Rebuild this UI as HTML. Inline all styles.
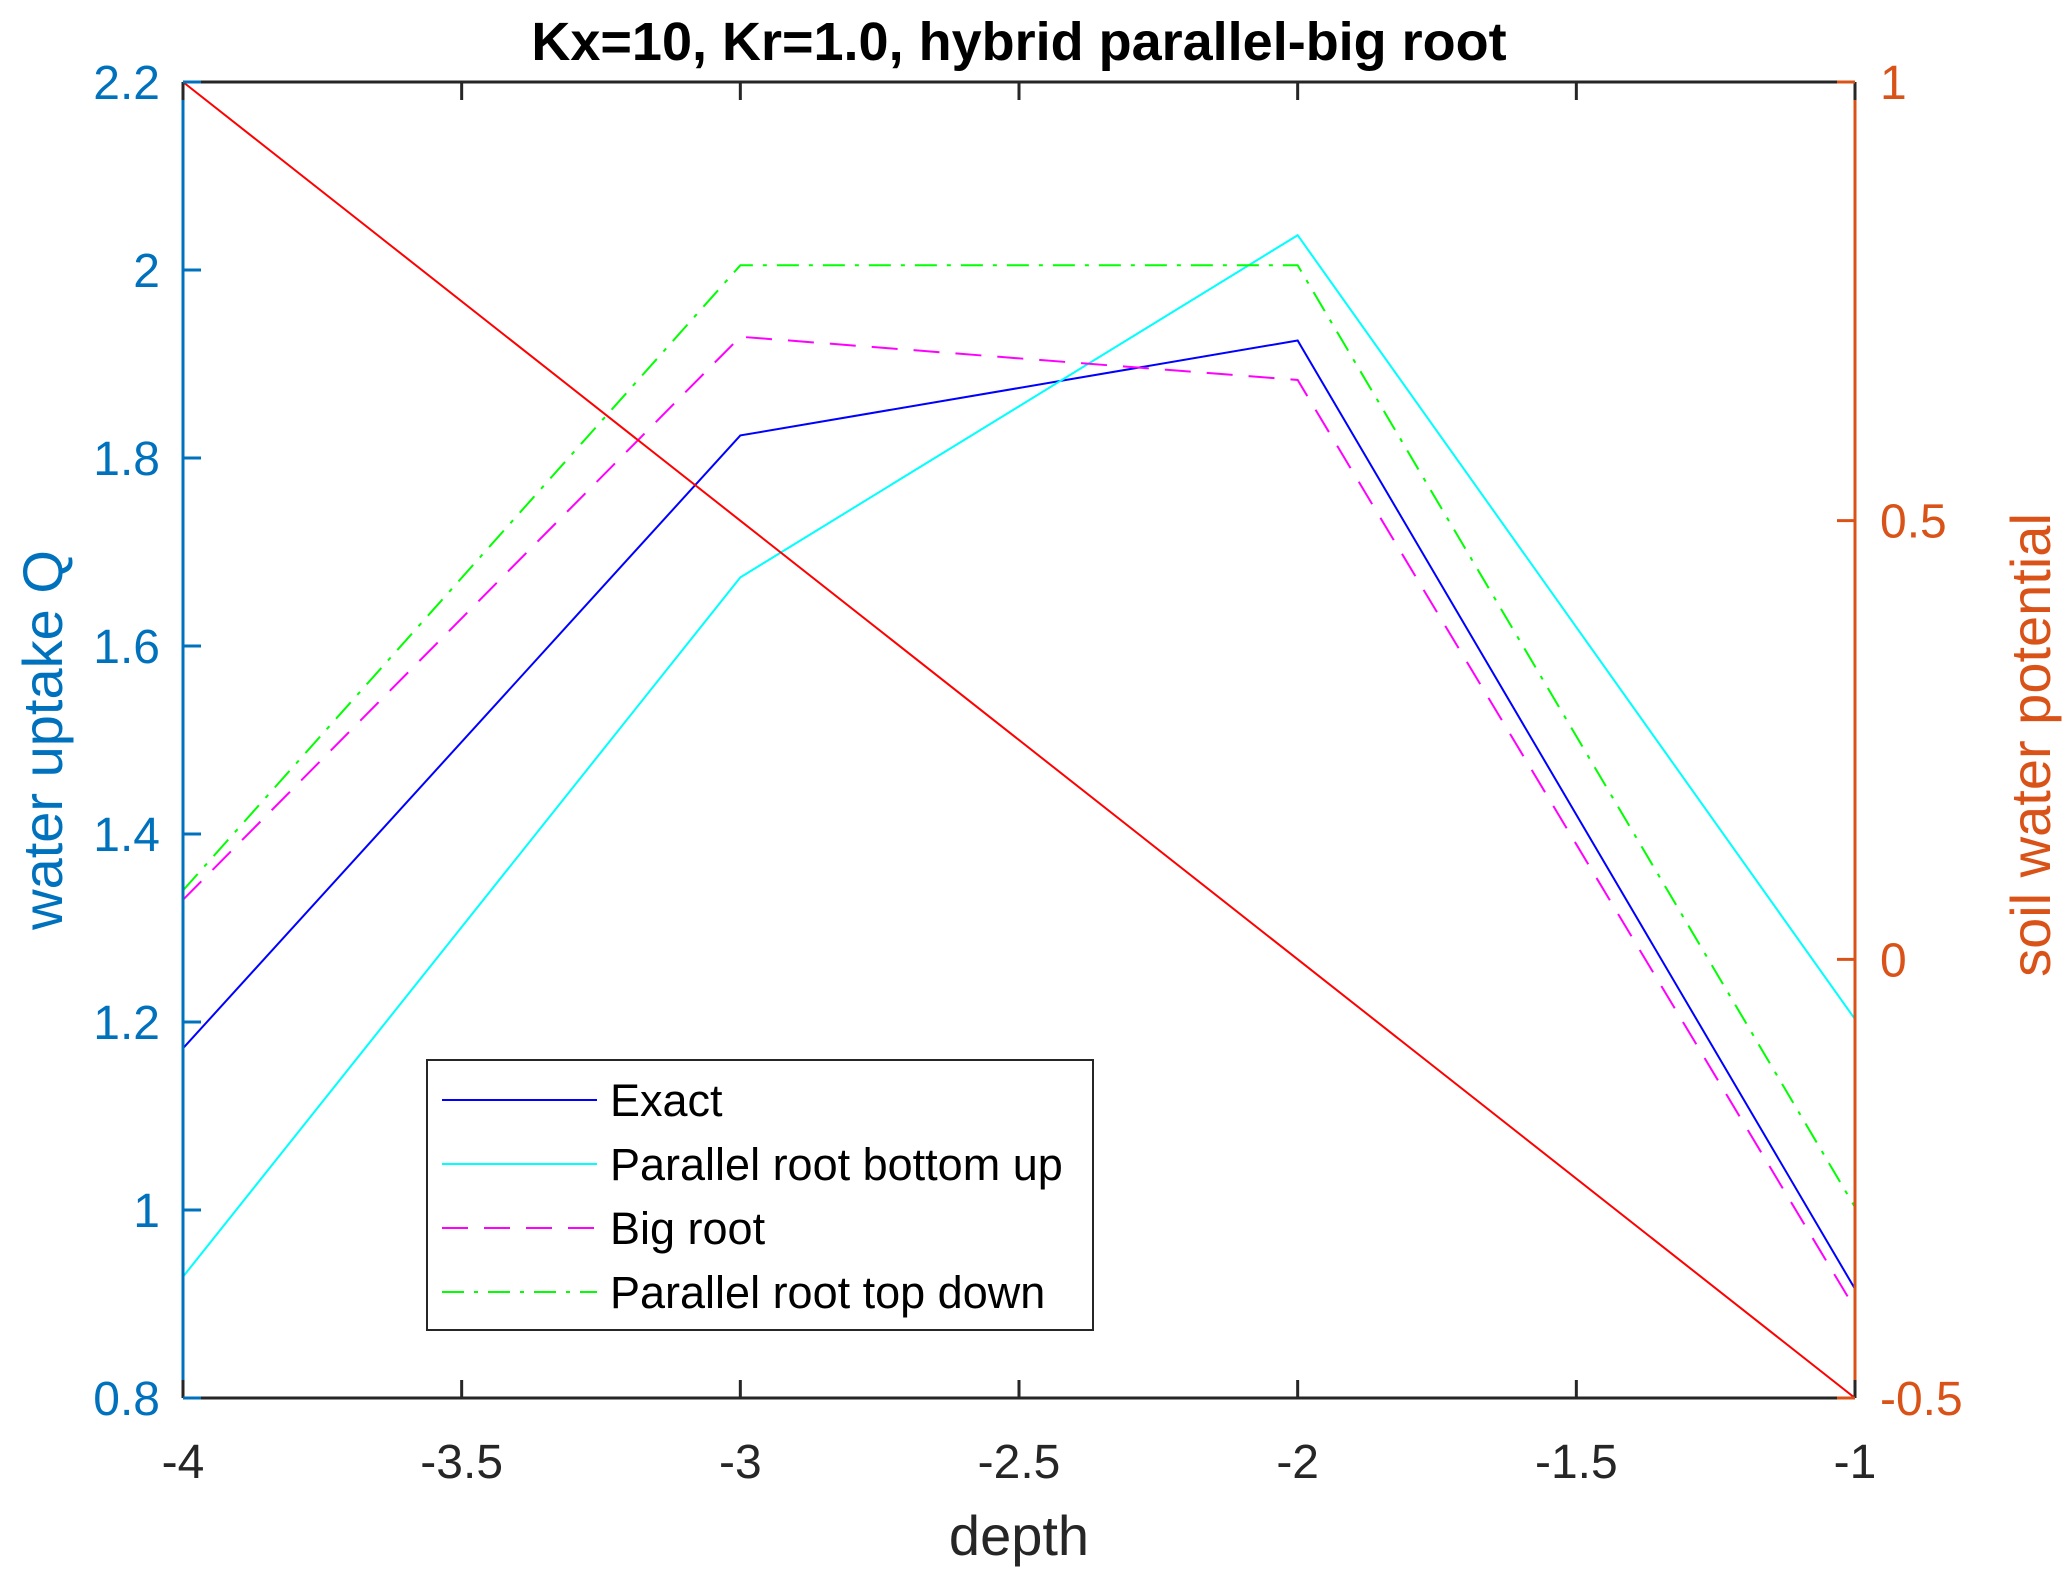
<!DOCTYPE html>
<html><head><meta charset="utf-8"><style>
body{margin:0;background:#fff}
svg{display:block;font-family:"Liberation Sans",Arial,sans-serif}
</style></head><body>
<svg id="chart" width="2067" height="1577" viewBox="0 0 2067 1577">
<rect width="2067" height="1577" fill="#fff"/>
<text x="1019" y="60" text-anchor="middle" font-size="54" font-weight="bold" fill="#000">Kx=10, Kr=1.0, hybrid parallel-big root</text>
<g id="marks"></g>
<g id="axes"></g>
<text x="1019" y="1555" text-anchor="middle" font-size="56" fill="#262626">depth</text>
<text transform="translate(62,740) rotate(-90)" text-anchor="middle" font-size="56" fill="#0072BD">water uptake Q</text>
<text transform="translate(2050,745) rotate(-90)" text-anchor="middle" font-size="56" fill="#D95319">soil water potential</text>
<g id="legend"></g>
</svg>
<script>
const depths = [-4, -3, -2, -1];
const exact = [1.172, 1.824, 1.925, 0.916];
const parallelBottomUp = [0.929, 1.673, 2.037, 1.203];
const bigRoot = [1.330, 1.929, 1.883, 0.895];
const parallelTopDown = [1.340, 2.005, 2.005, 1.003];
const soilPotential = [1.0, 0.5, 0.0, -0.5];
const xTicks = [-4, -3.5, -3, -2.5, -2, -1.5, -1];
const yLeftTicks = [0.8, 1, 1.2, 1.4, 1.6, 1.8, 2, 2.2];
const yRightTicks = [-0.5, 0, 0.5, 1];
const legendLabels = ["Exact", "Parallel root bottom up", "Big root", "Parallel root top down"];

const L=183,R=1855,T=82,B=1398;
const X=v=>L+(v+4)/3*(R-L);
const YL=v=>B-(v-0.8)/1.4*(B-T);
const YR=v=>B-(v+0.5)/1.5*(B-T);
const NS="http://www.w3.org/2000/svg";
function mk(tag,attrs,parent){const e=document.createElementNS(NS,tag);for(const k in attrs)e.setAttribute(k,attrs[k]);parent.appendChild(e);return e;}
const marks=document.getElementById('marks'),axes=document.getElementById('axes'),legend=document.getElementById('legend');

const series=[
 {vals:exact,color:"#0000FF",dash:"",name:"series-exact",y:YL},
 {vals:parallelBottomUp,color:"#00FFFF",dash:"",name:"series-parallel-bottom-up",y:YL},
 {vals:bigRoot,color:"#FF00FF",dash:"26 16",name:"series-big-root",y:YL},
 {vals:parallelTopDown,color:"#00FF00",dash:"22 10 4 10",name:"series-parallel-top-down",y:YL},
];
series.forEach(s=>{
 const p=mk('polyline',{points:depths.map((d,i)=>X(d)+','+s.y(s.vals[i])).join(' '),fill:'none',stroke:s.color,'stroke-width':2,'stroke-dasharray':s.dash},marks);
 
 
});
const red=mk('polyline',{points:depths.map((d,i)=>X(d)+','+YR(soilPotential[i])).join(' '),fill:'none',stroke:'#FF0000','stroke-width':2},marks);



const bx=mk('line',{x1:L,y1:B,x2:R,y2:B,stroke:'#262626','stroke-width':3},axes);


const tx=mk('line',{x1:L,y1:T,x2:R,y2:T,stroke:'#262626','stroke-width':3},axes);


const ly=mk('line',{x1:L,y1:T,x2:L,y2:B,stroke:'#0072BD','stroke-width':3},axes);


const ry=mk('line',{x1:R,y1:T,x2:R,y2:B,stroke:'#D95319','stroke-width':3},axes);



xTicks.forEach(v=>{
 const x=X(v);
 mk('line',{x1:x,y1:B,x2:x,y2:B-18,stroke:'#262626','stroke-width':3},axes);
 mk('line',{x1:x,y1:T,x2:x,y2:T+18,stroke:'#262626','stroke-width':3},axes);
 const t=mk('text',{x:x,y:B+80,'text-anchor':'middle','font-size':48,fill:'#262626'},axes);
 t.textContent=String(v);
 
 
});
yLeftTicks.forEach(v=>{
 const y=YL(v);
 mk('line',{x1:L,y1:y,x2:L+18,y2:y,stroke:'#0072BD','stroke-width':3},axes);
 const t=mk('text',{x:160,y:y+17,'text-anchor':'end','font-size':48,fill:'#0072BD'},axes);
 t.textContent=String(v);
 
 
});
yRightTicks.forEach(v=>{
 const y=YR(v);
 mk('line',{x1:R,y1:y,x2:R-18,y2:y,stroke:'#D95319','stroke-width':3},axes);
 const t=mk('text',{x:1880,y:y+17,'text-anchor':'start','font-size':48,fill:'#D95319'},axes);
 t.textContent=String(v);
 
 
});

const box=mk('rect',{x:427,y:1060,width:666,height:270,fill:'#fff',stroke:'#262626','stroke-width':2},legend);


const rows=[1100,1164,1228,1292];
legendLabels.forEach((lab,i)=>{
 const s=series[i];
 const ln=mk('line',{x1:442,y1:rows[i],x2:597,y2:rows[i],stroke:s.color,'stroke-width':2,'stroke-dasharray':s.dash},legend);
 
 
 const t=mk('text',{x:610,y:rows[i]+16,'font-size':45,fill:'#000'},legend);
 t.textContent=lab;
 
 
});
</script>
</body></html>
